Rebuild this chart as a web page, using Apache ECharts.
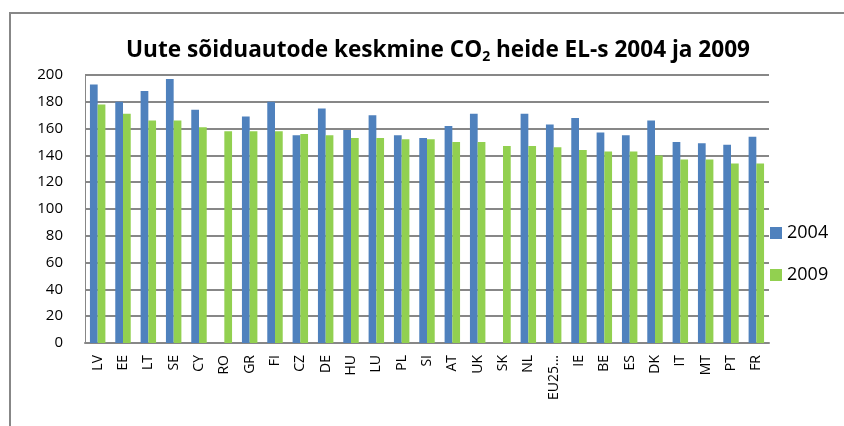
<!DOCTYPE html>
<html><head><meta charset="utf-8">
<script src="https://cdn.jsdelivr.net/npm/echarts@6/dist/echarts.min.js"></script>
<style>html,body{margin:0;padding:0;background:#fff}#c{width:844px;height:426px}</style>
</head><body><div id="c"></div>
<script>
const categories = ["LV","EE","LT","SE","CY","RO","GR","FI","CZ","DE","HU","LU","PL","SI","AT","UK","SK","NL","EU25...","IE","BE","ES","DK","IT","MT","PT","FR"];
const values2004 = [193,180,188,197,174,null,169,180,155,175,159,170,155,153,162,171,null,171,163,168,157,155,166,150,149,148,154];
const values2009 = [178,171,166,166,161,158,158,158,156,155,153,153,152,152,150,150,147,147,146,144,143,143,140,137,137,134,134];
const seriesNames = ["2004","2009"];
const yTicks = {min:0, max:200, interval:20};

const chart = echarts.init(document.getElementById('c'), null, {renderer:'canvas'});
const font = "'Open Sans', 'Liberation Sans', sans-serif";
chart.setOption({
  animation:false,
  backgroundColor:'#fff',
  graphic:[{type:'rect', shape:{x:10, y:13, width:850, height:430}, style:{fill:'none', stroke:'#878787', lineWidth:2}, z:-1}],
  title:{
    text:'{a|Uute sõiduautode keskmine CO}{s|2}{a| heide EL-s 2004 ja 2009}',
    left:433, top:33, textAlign:'center',
    textStyle:{rich:{
      a:{fontFamily:font, fontWeight:'bold', fontSize:22.6, color:'#000'},
      s:{fontFamily:font, fontWeight:'bold', fontSize:14, color:'#000', padding:[12,0,0,0]}
    }}
  },
  legend:{
    orient:'vertical', left:770, top:224, padding:0, itemWidth:12, itemHeight:12, itemGap:24,
    icon:'rect',
    textStyle:{fontFamily:font, fontSize:18, color:'#000', padding:[0,0,0,0]},
    data:seriesNames
  },
  grid:{left:85, right:75, top:75, bottom:83, containLabel:false},
  xAxis:{
    type:'category', data:categories,
    axisLine:{lineStyle:{color:'#878787', width:2}},
    axisTick:{show:false},
    axisLabel:{rotate:90, interval:0, fontFamily:font, fontSize:14, color:'#000', margin:12}
  },
  yAxis:{
    type:'value', min:yTicks.min, max:yTicks.max, interval:yTicks.interval,
    axisLine:{show:true, lineStyle:{color:'#878787', width:1}},
    axisTick:{show:false},
    splitLine:{lineStyle:{color:'#878787', width:2}},
    axisLabel:{fontFamily:font, fontSize:15, color:'#000', margin:22}
  },
  series:[
    {name:seriesNames[0], type:'bar', data:values2004, itemStyle:{color:'#4F81BD'}, barGap:'0%', barCategoryGap:'39%'},
    {name:seriesNames[1], type:'bar', data:values2009, itemStyle:{color:'#92D050'}, barGap:'0%', barCategoryGap:'39%'}
  ]
});
</script></body></html>
